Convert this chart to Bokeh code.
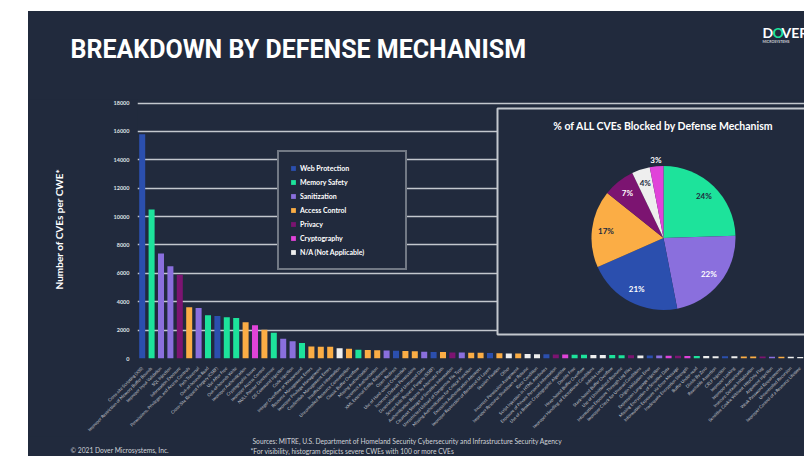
import math
from bokeh.plotting import figure
from bokeh.layouts import column
from bokeh.models import Range1d, FixedTicker, Legend, LegendItem, ColumnDataSource
from bokeh.core.properties import value
from bokeh.embed import file_html
from bokeh.resources import INLINE

# ---------------- data ----------------
cwe_names = [
    "Cross-site Scripting (XSS)",
    "Improper Restriction of Memory Buffer Bounds",
    "Improper Input Validation",
    "SQL Injection",
    "Information Exposure",
    "Permissions, Privileges, and Access Controls",
    "Path Traversal",
    "Out-of-bounds Read",
    "Cross-Site Request Forgery (CSRF)",
    "Use After Free",
    "Out-of-bounds Write",
    "Improper Authentication",
    "Cryptographic Issues",
    "Improper Access Control",
    "NULL Pointer Dereference",
    "OS Command Injection",
    "Code Injection",
    "Integer Overflow or Wraparound",
    "Resource Management Errors",
    "Improper Privilege Management",
    "Credentials Management Errors",
    "Insufficient Information",
    "Uncontrolled Resource Consumption",
    "Classic Buffer Overflow",
    "Missing Authorization",
    "Incorrect Authorization",
    "XML External Entity Reference",
    "Open Redirect",
    "Use of Hard-coded Credentials",
    "Incorrect Default Permissions",
    "Deserialization of Untrusted Data",
    "Server-Side Request Forgery (SSRF)",
    "Authentication Bypass by Alternate Path",
    "Cleartext Storage of Sensitive Information",
    "Unrestricted Upload of Dangerous File Type",
    "Missing Authentication for Critical Function",
    "Excessive Authentication Attempts",
    "Improper Restriction of Rendered UI Layers",
    "Session Fixation",
    "Other",
    "Incorrect Permission Assignment",
    "Improper Resource Shutdown or Release",
    "Race Condition",
    "Script Injection in HTML Attributes",
    "Exposure of Private Personal Information",
    "Use of a Broken Cryptographic Algorithm",
    "Double Free",
    "Heap-based Buffer Overflow",
    "Improper Handling of Exceptional Conditions",
    "Infinite Loop",
    "Stack-based Buffer Overflow",
    "Use of Uninitialized Resource",
    "Information Exposure Through Log Files",
    "Improper Check for Unusual Conditions",
    "Origin Validation Error",
    "Expression Language Injection",
    "Missing Encryption of Sensitive Data",
    "Information Exposure via Error Message",
    "Inadequate Encryption Strength",
    "Buffer Under-read",
    "Divide By Zero",
    "Reachable Assertion",
    "CRLF Injection",
    "Improper Locking",
    "Improper Authorization",
    "Insecure Default Initialization",
    "Sensitive Cookie Without HttpOnly Flag",
    "Argument Injection",
    "Weak Password Requirements",
    "Uncontrolled Recursion",
    "Improper Control of a Resource Lifetime",
]

cve_counts = [
    15800, 10500, 7400, 6500, 5900, 3620, 3560, 3050, 3000, 2900,
    2850, 2550, 2350, 2030, 1820, 1400, 1220, 1100, 840, 830,
    820, 730, 680, 610, 600, 590, 560, 550, 520, 515,
    470, 465, 460, 420, 415, 410, 400, 380, 370, 350,
    345, 310, 305, 295, 285, 275, 265, 260, 250, 245,
    240, 235, 225, 220, 210, 205, 195, 190, 180, 175,
    170, 165, 160, 150, 145, 140, 135, 125, 120, 115,
    110,
]

WEB, MEM, SAN, ACC, PRI, CRY, NA = ("Web Protection", "Memory Safety", "Sanitization",
                                    "Access Control", "Privacy", "Cryptography",
                                    "N/A (Not Applicable)")
mechanisms = [
    WEB, MEM, SAN, SAN, PRI, ACC, SAN, MEM, WEB, MEM,
    MEM, ACC, CRY, ACC, MEM, SAN, SAN, MEM, ACC, ACC,
    ACC, NA, ACC, MEM, ACC, ACC, SAN, WEB, ACC, ACC,
    SAN, WEB, ACC, PRI, SAN, ACC, ACC, WEB, ACC, NA,
    ACC, NA, NA, WEB, PRI, CRY, MEM, MEM, NA, NA,
    MEM, MEM, PRI, NA, WEB, SAN, CRY, PRI, CRY, MEM,
    NA, NA, WEB, NA, ACC, ACC, PRI, SAN, ACC, NA,
    NA,
]

legend_order = [WEB, MEM, SAN, ACC, PRI, CRY, NA]
y_ticks = [0, 2000, 4000, 6000, 8000, 10000, 12000, 14000, 16000, 18000]

pie_labels = [MEM, SAN, WEB, ACC, PRI, NA, CRY]
pie_values = [24, 22, 21, 17, 7, 4, 3]

# ---------------- styles ----------------
NAVY = "#212a3d"
GRID = "#c3c7ce"
COLORS = {
    WEB: "#2b4fae",
    MEM: "#1de39b",
    SAN: "#8a6fdd",
    ACC: "#fbad45",
    PRI: "#7c1471",
    CRY: "#e043d9",
    NA: "#eeeeee",
}
DARK_ON = {MEM, ACC, NA}
FONT = "Lato"

# page geometry
WIN_W, WIN_H = 804, 456
SL_X, SL_Y = 28, 11           # slide top-left on the page
HEAD_B = 99                   # header / main boundary (page y) = frame top
MAIN_B = 436                  # main / footer boundary (page y)
FR_L, FR_B = 137, 359         # main frame left and bottom (page)
W = WIN_W - SL_X


def Y(page_y):
    return WIN_H - page_y


def base_fig(h, **kw):
    return figure(width=W, height=h, output_backend="svg", toolbar_location=None,
                  background_fill_color=NAVY, border_fill_color=NAVY, outline_line_color=None,
                  frame_align=False, **kw)


def bare(f):
    f.min_border = 0
    f.min_border_left = 0
    f.min_border_right = 0
    f.min_border_top = 0
    f.min_border_bottom = 0
    f.xaxis.visible = False
    f.yaxis.visible = False
    f.grid.visible = False
    return f


# ---------------- header ----------------
head = bare(base_fig(HEAD_B - SL_Y, x_range=Range1d(SL_X, WIN_W), y_range=Range1d(Y(HEAD_B), Y(SL_Y))))
head.text(x=[70], y=[Y(49)], text=["BREAKDOWN BY DEFENSE MECHANISM"], text_baseline="middle",
          text_font=value("Roboto"), text_font_style="bold",
          text_font_size="25px", text_color="white")
head.text(x=[762, 772, 781], y=[Y(32)] * 3, text=["D", "O", "VER"], text_baseline="middle",
          text_font=value(FONT), text_font_style="bold", text_font_size="14px",
          text_color=["white", "#1de39b", "white"])
head.text(x=[762], y=[Y(41)], text=["MICROSYSTEMS"], text_baseline="middle",
          text_font=value(FONT), text_font_style="bold", text_font_size="3.5px", text_color="#cfd3d8")

# ---------------- main chart ----------------
p = base_fig(MAIN_B - HEAD_B, x_range=Range1d(0.5, 0.5 + (WIN_W - FR_L) / 9.4),
             y_range=Range1d(0, 18250))
p.min_border_left = FR_L - SL_X
p.min_border_right = 0
p.min_border_top = 0
p.min_border_bottom = MAIN_B - FR_B
p.extra_x_ranges = {"px": Range1d(FR_L, WIN_W)}
p.extra_y_ranges = {"py": Range1d(Y(FR_B), Y(HEAD_B))}

p.xgrid.grid_line_color = None
p.ygrid.grid_line_color = GRID
p.ygrid.grid_line_width = 1.5
p.yaxis.ticker = FixedTicker(ticks=y_ticks)
p.yaxis.axis_line_color = None
p.yaxis.major_tick_line_color = None
p.yaxis.minor_tick_line_color = None
p.yaxis.major_label_text_font = FONT
p.yaxis.major_label_text_font_style = "bold"
p.yaxis.major_label_text_font_size = "5.5px"
p.yaxis.major_label_text_color = "#dfe2e6"
p.yaxis.major_label_standoff = 2
p.yaxis.axis_label = "Number of CVEs per CWE*"
p.yaxis.axis_label_text_font = FONT
p.yaxis.axis_label_text_font_style = "bold"
p.yaxis.axis_label_text_font_size = "10px"
p.yaxis.axis_label_text_color = "white"
p.yaxis.axis_label_standoff = 46

xs = list(range(1, len(cve_counts) + 1))
p.xaxis.ticker = FixedTicker(ticks=xs)
p.xaxis.major_label_overrides = {x: n for x, n in zip(xs, cwe_names)}
p.xaxis.major_label_orientation = math.pi / 4
p.xaxis.major_label_text_font = FONT
p.xaxis.major_label_text_font_size = "4.3px"
p.xaxis.major_label_text_color = "#c9ccd3"
p.xaxis.major_label_standoff = 3
p.xaxis.axis_line_color = None
p.xaxis.major_tick_line_color = None
p.xaxis.minor_tick_line_color = None

items = []
for mech in legend_order:
    idx = [i for i, m in enumerate(mechanisms) if m == mech]
    src = ColumnDataSource(dict(x=[xs[i] for i in idx], top=[cve_counts[i] for i in idx]))
    r = p.vbar(x="x", top="top", width=0.64, source=src, fill_color=COLORS[mech], line_color=None)
    items.append(LegendItem(label=mech, renderers=[r]))

legend = Legend(items=items, location=(277 - FR_L, FR_B - 271), orientation="vertical",
                background_fill_color=NAVY, background_fill_alpha=1.0,
                border_line_color=GRID, border_line_width=2,
                label_text_font=FONT, label_text_font_style="bold",
                label_text_font_size="7px", label_text_color="white",
                glyph_width=6, glyph_height=6, label_height=10, label_width=94,
                spacing=4, padding=11, margin=0, label_standoff=4)
p.add_layout(legend)

# pie panel
p.quad(left=[497], right=[815], top=[Y(108)], bottom=[Y(335)],
       x_range_name="px", y_range_name="py",
       fill_color=NAVY, line_color=GRID, line_width=2)
p.text(x=[663], y=[Y(126)], text=["% of ALL CVEs Blocked by Defense Mechanism"],
       x_range_name="px", y_range_name="py", text_align="center", text_baseline="middle",
       text_font=value(FONT), text_font_style="bold", text_font_size="10.5px", text_color="white")

CX, CY, R = 663, Y(238), 72
total = sum(pie_values)
starts, ends, mids = [], [], []
cum = 0
for v in pie_values:
    a0 = math.pi / 2 - 2 * math.pi * cum / total
    cum += v
    a1 = math.pi / 2 - 2 * math.pi * cum / total
    starts.append(a1)
    ends.append(a0)
    mids.append((a0 + a1) / 2)
pie_src = ColumnDataSource(dict(start=starts, end=ends,
                                color=[COLORS[k] for k in pie_labels]))
p.wedge(x=CX, y=CY, radius=R, radius_units="screen", start_angle="start", end_angle="end",
        direction="anticlock", fill_color="color", line_color=None, source=pie_src,
        x_range_name="px", y_range_name="py")

lr = [58 if v >= 4 else 79 for v in pie_values]
lab_src = ColumnDataSource(dict(
    x=[CX + r * math.cos(m) for r, m in zip(lr, mids)],
    y=[CY + r * math.sin(m) for r, m in zip(lr, mids)],
    text=[f"{v}%" for v in pie_values],
    color=[NAVY if (k in DARK_ON and v >= 4) else "white" for k, v in zip(pie_labels, pie_values)],
))
p.text(x="x", y="y", text="text", source=lab_src, text_color="color",
       text_align="center", text_baseline="middle", text_font=value(FONT),
       text_font_style="bold", text_font_size="8px", x_range_name="px", y_range_name="py")

# ---------------- footer ----------------
foot = bare(base_fig(WIN_H - MAIN_B, x_range=Range1d(SL_X, WIN_W), y_range=Range1d(Y(WIN_H), Y(MAIN_B))))
foot.text(x=[70, 252, 250], y=[Y(449), Y(440), Y(450)],
          text=["© 2021 Dover Microsystems, Inc.",
                "Sources: MITRE, U.S. Department of Homeland Security Cybersecurity and Infrastructure Security Agency",
                "*For visibility, histogram depicts severe CWEs with 100 or more CVEs"],
          text_baseline="middle", text_font=value(FONT), text_font_size="6.7px", text_color="#d0d3d8")

layout = column(head, p, foot, spacing=0, margin=(SL_Y, 0, 0, SL_X),
                styles={"background-color": NAVY})
open("out.html", "w").write(file_html(layout, INLINE))
